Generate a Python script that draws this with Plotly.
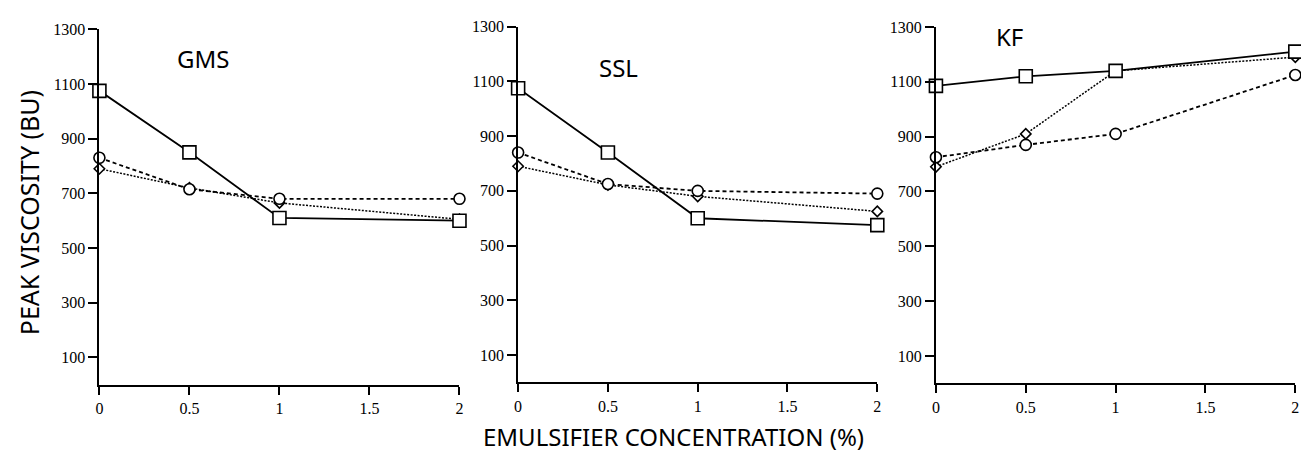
import plotly.graph_objects as go

conc = [0, 0.5, 1, 2]
panels = ["GMS", "SSL", "KF"]

gms_square = [1075, 850, 610, 600]
gms_circle = [830, 715, 680, 680]
gms_diamond = [790, 720, 665, 605]

ssl_square = [1075, 840, 600, 575]
ssl_circle = [840, 725, 700, 690]
ssl_diamond = [790, 722, 680, 625]

kf_square = [1085, 1120, 1140, 1210]
kf_circle = [825, 870, 910, 1125]
kf_diamond = [790, 910, 1140, 1190]

y_ticks = [100, 300, 500, 700, 900, 1100, 1300]
x_ticks = [0, 0.5, 1, 1.5, 2]
x_ticklabels = ["0", "0.5", "1", "1.5", "2"]

data = [
    (gms_square, gms_circle, gms_diamond),
    (ssl_square, ssl_circle, ssl_diamond),
    (kf_square, kf_circle, kf_diamond),
]

W, H = 1301, 453
xdoms = [(96, 458.3), (517.3, 878.7), (937.7, 1299.3)]
ydoms = [(383.5, 21.7), (381.2, 19.0), (382.2, 19.3)]
title_pos = [(200, 51), (618, 61), (1012, 29)]

fig = go.Figure()
for i, (sq, ci, di) in enumerate(data):
    xa = "x" if i == 0 else f"x{i+1}"
    ya = "y" if i == 0 else f"y{i+1}"
    fig.add_trace(go.Scatter(x=conc, y=di, xaxis=xa, yaxis=ya, mode="lines+markers",
                             line=dict(color="black", width=1.5, dash="2px,1.5px"),
                             marker=dict(symbol="diamond", size=8, color="white",
                                         line=dict(color="black", width=1.6)),
                             cliponaxis=False, showlegend=False))
    fig.add_trace(go.Scatter(x=conc, y=ci, xaxis=xa, yaxis=ya, mode="lines+markers",
                             line=dict(color="black", width=1.8, dash="4px,3px"),
                             marker=dict(symbol="circle", size=11, color="white",
                                         line=dict(color="black", width=1.6)),
                             cliponaxis=False, showlegend=False))
    fig.add_trace(go.Scatter(x=conc, y=sq, xaxis=xa, yaxis=ya, mode="lines+markers",
                             line=dict(color="black", width=1.8),
                             marker=dict(symbol="square", size=13, color="white",
                                         line=dict(color="black", width=1.6)),
                             cliponaxis=False, showlegend=False))

layout = dict(width=W, height=H, margin=dict(l=0, r=0, t=0, b=0),
              paper_bgcolor="white", plot_bgcolor="white", showlegend=False)
tickfont = dict(family="Liberation Serif", size=16, color="black")
for i in range(3):
    xk = "xaxis" if i == 0 else f"xaxis{i+1}"
    yk = "yaxis" if i == 0 else f"yaxis{i+1}"
    x0, x1 = xdoms[i]
    yb, yt = ydoms[i]
    layout[xk] = dict(domain=[x0 / W, x1 / W], range=[0, 2], anchor="y" if i == 0 else f"y{i+1}",
                      showline=True, linecolor="black", linewidth=2, showgrid=False,
                      zeroline=False, ticks="outside", ticklen=8, tickwidth=1.6,
                      tickcolor="black", tickvals=x_ticks, ticktext=x_ticklabels,
                      tickfont=tickfont)
    layout[yk] = dict(domain=[(H - yb) / H, (H - yt) / H], range=[0, 1300],
                      anchor="x" if i == 0 else f"x{i+1}",
                      showline=True, linecolor="black", linewidth=2, showgrid=False,
                      zeroline=False, ticks="outside", ticklen=9, tickwidth=1.6,
                      tickcolor="black", tickvals=y_ticks, tickfont=tickfont)
fig.update_layout(**layout)

for name, (px, py) in zip(panels, title_pos):
    fig.add_annotation(text=name, x=px / W, y=(H - py) / H, xref="paper", yref="paper",
                       showarrow=False, xanchor="center", yanchor="middle",
                       font=dict(family="Noto Sans", size=24, color="black"))

fig.add_annotation(text="PEAK VISCOSITY (BU)", x=25 / W, y=(H - 208) / H, xref="paper",
                   yref="paper", showarrow=False, textangle=-90, xanchor="center",
                   yanchor="middle", font=dict(family="Noto Sans", size=25, color="black"))
fig.add_annotation(text="EMULSIFIER CONCENTRATION (%)", x=674 / W, y=(H - 436) / H,
                   xref="paper", yref="paper", showarrow=False, xanchor="center",
                   yanchor="middle", font=dict(family="Noto Sans", size=24, color="black"))

fig.write_html("out.html")
